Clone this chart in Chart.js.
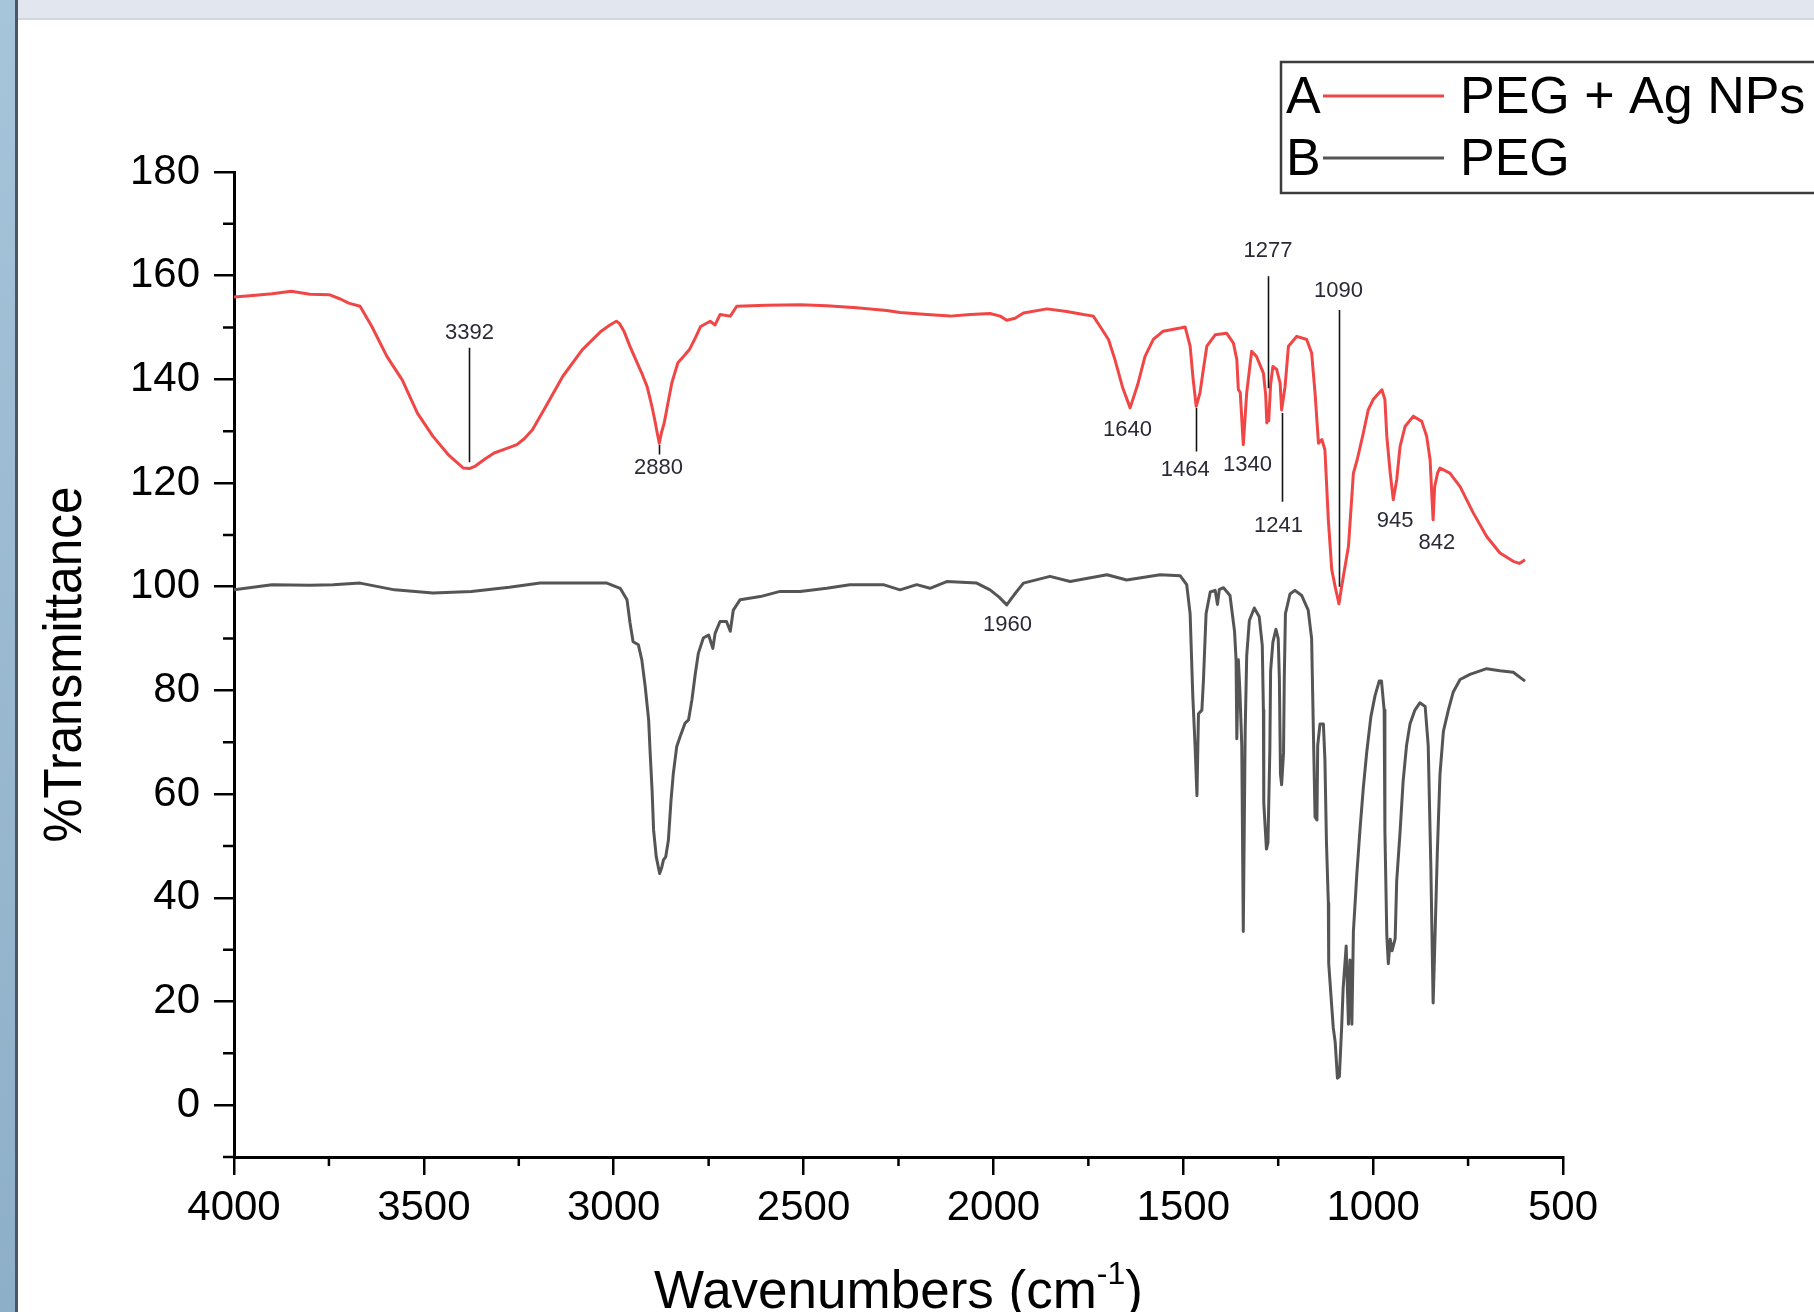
<!DOCTYPE html>
<html>
<head>
<meta charset="utf-8">
<title>FTIR PEG / PEG + Ag NPs</title>
<script src="https://cdn.jsdelivr.net/npm/chart.js@4.4.1/dist/chart.umd.min.js"></script>
<style>
  html, body { margin: 0; padding: 0; background: #fff; }
  #wrap { position: relative; width: 1814px; height: 1312px; overflow: hidden; background: #fff; }
  #ftir { position: absolute; left: 0; top: 0; }
  #topbar { position: absolute; left: 0; top: 0; width: 1814px; height: 18px; background: #e1e6ef; border-bottom: 2px solid #d2d7df; }
  #sidebar { position: absolute; left: 0; top: 0; width: 15px; height: 1312px; background: linear-gradient(#a6c4da, #8eafc8); border-right: 3px solid #4c5667; }
</style>
</head>
<body>
<div id="wrap">
  <canvas id="ftir" width="1814" height="1312"></canvas>
  <div id="topbar"></div>
  <div id="sidebar"></div>
</div>
<script>
// A: PEG + Ag NPs (red)
const wnA = [4000, 3950, 3900, 3849, 3800, 3748, 3720, 3698, 3668, 3637, 3597, 3557, 3517, 3476, 3436, 3396, 3380, 3366, 3340, 3315,
  3285, 3255, 3235, 3214, 3174, 3134, 3083, 3033, 3010, 2993, 2985, 2973, 2958, 2942, 2925, 2912, 2900, 2892, 2885, 2880,
  2874, 2867, 2857, 2847, 2831, 2815, 2801, 2785, 2771, 2746, 2733, 2720, 2693, 2676, 2597, 2509, 2439, 2360, 2281, 2246,
  2175, 2114, 2061, 2009, 1982, 1965, 1943, 1921, 1859, 1807, 1763, 1737, 1719, 1697, 1680, 1660, 1640, 1620, 1601, 1579,
  1553, 1508, 1495, 1482, 1474, 1466, 1456, 1447, 1438, 1416, 1386, 1368, 1359, 1355, 1350, 1342, 1333, 1320, 1307, 1289,
  1283, 1280, 1277, 1275, 1270, 1264, 1254, 1245, 1241, 1232, 1223, 1201, 1175, 1162, 1153, 1144, 1135, 1127, 1118, 1109,
  1100, 1090, 1083, 1065, 1052, 1042, 1026, 1013, 1000, 977, 969, 964, 955, 947, 938, 929, 916, 894, 872, 859,
  850, 845, 842, 838, 830, 824, 798, 771, 736, 701, 666, 631, 615, 600];
const tA = [155.9, 156.2, 156.5, 157, 156.4, 156.3, 155.5, 154.7, 154.1, 150.2, 144.4, 139.9, 133.5, 129, 125.5, 122.9, 122.8, 123.2, 124.6, 125.8,
  126.6, 127.4, 128.6, 130.3, 135.4, 140.6, 145.7, 149.3, 150.5, 151.2, 150.8, 149.3, 146.5, 143.8, 141, 138.6, 135, 132.2, 129.5, 127.7,
  129.8, 131.6, 135.5, 139.3, 143.2, 144.5, 145.7, 148, 150.2, 151.2, 150.5, 152.5, 152.2, 154.1, 154.3, 154.4, 154.2, 153.8, 153.3, 152.9,
  152.5, 152.2, 152.5, 152.7, 152.2, 151.4, 151.8, 152.8, 153.6, 153.1, 152.5, 152.2, 150.2, 147.7, 143.8, 138.5, 134.5, 139, 144.4, 147.7,
  149.3, 149.9, 150.1, 146.4, 140, 134.8, 137.4, 142, 146.4, 148.6, 148.9, 147, 143.8, 138, 137.5, 127.4, 137.4, 145.4, 144.4, 141.2,
  137, 131.6, 134, 132, 139, 142.5, 141.9, 139.3, 134.1, 138.6, 146.4, 148.3, 147.7, 145.1, 137.4, 127.7, 128.4, 126.4, 112.9, 103.3,
  100, 96.7, 100, 107.8, 121.9, 124.5, 129.6, 134.1, 136.1, 138, 136.1, 129, 121.9, 116.8, 120.6, 127.1, 130.9, 132.9, 131.9, 129,
  124.5, 117, 112.9, 119.3, 122, 122.9, 121.9, 119.3, 114.2, 109.7, 106.5, 104.9, 104.5, 105.2];

// B: PEG (dark grey)
const wnB = [4000, 3900, 3800, 3739, 3668, 3577, 3476, 3375, 3275, 3194, 3088, 3018, 2983, 2965, 2957, 2949, 2935, 2926, 2917, 2908,
  2904, 2899, 2895, 2888, 2879, 2873, 2869, 2863, 2856, 2849, 2843, 2834, 2825, 2812, 2803, 2794, 2785, 2777, 2764, 2750,
  2739, 2733, 2720, 2703, 2693, 2685, 2667, 2614, 2562, 2509, 2439, 2378, 2290, 2246, 2202, 2167, 2123, 2044, 2009, 1985,
  1965, 1945, 1921, 1851, 1798, 1701, 1649, 1561, 1508, 1491, 1482, 1475, 1469, 1464, 1460, 1451, 1447, 1440, 1429, 1416,
  1410, 1405, 1394, 1377, 1365, 1361, 1359, 1355, 1351, 1346, 1342, 1337, 1333, 1326, 1313, 1300, 1292, 1289, 1288, 1281,
  1277, 1272, 1270, 1264, 1256, 1250, 1247, 1244, 1241, 1236, 1234, 1231, 1219, 1206, 1188, 1171, 1162, 1157, 1153, 1148,
  1146, 1140, 1131, 1127, 1123, 1118, 1117, 1109, 1105, 1100, 1094, 1089, 1083, 1079, 1071, 1065, 1061, 1056, 1052, 1043,
  1035, 1026, 1017, 1006, 995, 984, 978, 971, 969, 964, 960, 955, 950, 942, 938, 929, 921, 912, 903, 890,
  877, 863, 855, 848, 842, 838, 831, 824, 815, 802, 789, 771, 745, 701, 666, 631, 600];
const tB = [99.4, 100.4, 100.3, 100.4, 100.7, 99.4, 98.8, 99.1, 99.9, 100.7, 100.7, 100.7, 99.7, 97.5, 93, 89.4, 88.8, 85.9, 80.7, 74.3,
  67.9, 60.8, 53.1, 47.9, 44.7, 46, 47.3, 47.9, 51.1, 58.9, 64, 69.2, 71.1, 73.7, 74.3, 78.2, 83.3, 87.2, 90.1, 90.7,
  88.1, 91, 93.3, 93.3, 91.4, 95.5, 97.5, 98.1, 99.1, 99.1, 99.7, 100.4, 100.4, 99.4, 100.4, 99.7, 101, 100.7, 99.4, 98,
  96.5, 98.5, 100.7, 102, 101, 102.3, 101.3, 102.3, 102.1, 100.4, 94.8, 79, 69.4, 59.7, 75.5, 76.2, 81.8, 94.8, 99, 99.3,
  96.6, 99.5, 99.8, 98.3, 91.4, 85.9, 70.7, 85.9, 80, 69.4, 33.5, 72.1, 86.6, 93.5, 95.9, 94.2, 88.7, 76.2, 58.3, 49.4,
  50.7, 68.7, 83.8, 89.3, 91.8, 90, 82.4, 63.8, 61.8, 68, 82.4, 94.8, 98.6, 99.3, 98.3, 95.5, 90, 70.7, 55.6, 55,
  69.4, 73.5, 73.5, 66.6, 50.8, 39, 27.3, 19, 14.9, 12.2, 5.2, 5.5, 14.9, 22.5, 30.7, 15.6, 28, 15.6, 33.5, 44.5,
  52.8, 61.1, 68, 74.9, 79, 81.8, 81.8, 76.2, 52.8, 32.8, 27.3, 32, 29.8, 32.1, 43.2, 52.8, 62.5, 69.4, 73.5, 76.2,
  77.6, 76.9, 69.4, 45.9, 19.7, 30, 48.7, 63.8, 72.1, 76.2, 79.7, 82.1, 83.1, 84.2, 83.8, 83.5, 81.8];

// peak labels: text position (wavenumber, %T) and optional leader line
const peakLabels = ['3392', '2880', '1960', '1640', '1464', '1340', '1277', '1241', '1090', '945', '842'];
const peakTextX  = [3380, 2882, 1963, 1647, 1495, 1331, 1277, 1249, 1091, 942, 832];
const peakTextY  = [149, 123, 92.7, 130.3, 122.6, 123.5, 164.7, 111.8, 157, 112.6, 108.5];
const leaderX    = [3380, 2882, null, null, 1467, null, 1277, 1241, 1091, null, null];
const leaderFrom = [146.1, 127.4, null, null, 134.5, null, 159.9, 133.5, 153.4, null, null];
const leaderTo   = [124, 125.5, null, null, 126.1, null, 138.3, 116.4, 100, null, null];

const FONT = "'Liberation Sans', Arial, sans-serif";

function toPoints(xs, ys) {
  return xs.map((x, i) => ({ x: x, y: ys[i] }));
}

// minor ticks (Chart.js has none)
const minorTicks = {
  id: 'minorTicks',
  afterDraw(chart) {
    const { ctx, scales: { x, y } } = chart;
    ctx.save();
    ctx.strokeStyle = '#000';
    ctx.lineWidth = 2.5;
    ctx.beginPath();
    for (let v = 750; v < 4000; v += 500) {
      const px = x.getPixelForValue(v);
      ctx.moveTo(px, x.top);
      ctx.lineTo(px, x.top + 9);
    }
    for (let v = -10; v < 180; v += 20) {
      const py = y.getPixelForValue(v);
      ctx.moveTo(y.right - 11, py);
      ctx.lineTo(y.right, py);
    }
    ctx.stroke();
    ctx.restore();
  }
};

// axis titles, drawn by hand for the superscript and the narrow face
const axisTitles = {
  id: 'axisTitles',
  afterDraw(chart) {
    const { ctx, chartArea } = chart;
    ctx.save();
    ctx.fillStyle = '#000';

    // y title
    ctx.font = '54px ' + FONT;
    const yt = '%Transmittance';
    const yw = ctx.measureText(yt).width;
    const ys = Math.min(1, 356 / yw);
    ctx.translate(66, (chartArea.top + chartArea.bottom) / 2);
    ctx.rotate(-Math.PI / 2);
    ctx.scale(ys, 1);
    ctx.textAlign = 'center';
    ctx.textBaseline = 'middle';
    ctx.fillText(yt, 0, 0);
    ctx.setTransform(1, 0, 0, 1, 0, 0);

    // x title
    const main = 'Wavenumbers (cm';
    const sup = '-1';
    const tail = ')';
    ctx.textAlign = 'left';
    ctx.textBaseline = 'alphabetic';
    ctx.font = '53px ' + FONT;
    const w1 = ctx.measureText(main).width;
    const w3 = ctx.measureText(tail).width;
    ctx.font = '32px ' + FONT;
    const w2 = ctx.measureText(sup).width;
    const total = w1 + w2 + w3;
    let xp = (chartArea.left + chartArea.right) / 2 - total / 2;
    const base = 1308;
    ctx.font = '53px ' + FONT;
    ctx.fillText(main, xp, base);
    xp += w1;
    ctx.font = '32px ' + FONT;
    ctx.fillText(sup, xp, base - 24);
    xp += w2;
    ctx.font = '53px ' + FONT;
    ctx.fillText(tail, xp, base);
    ctx.restore();
  }
};

// peak labels with leader lines
const peakMarks = {
  id: 'peakMarks',
  afterDatasetsDraw(chart) {
    const { ctx, scales: { x, y } } = chart;
    ctx.save();
    ctx.strokeStyle = '#151515';
    ctx.lineWidth = 1.6;
    ctx.beginPath();
    leaderX.forEach((lx, i) => {
      if (lx === null) return;
      const px = Math.round(x.getPixelForValue(lx)) + 0.5;
      ctx.moveTo(px, y.getPixelForValue(leaderFrom[i]));
      ctx.lineTo(px, y.getPixelForValue(leaderTo[i]));
    });
    ctx.stroke();
    ctx.fillStyle = '#2a2a36';
    ctx.font = '22px ' + FONT;
    ctx.textAlign = 'center';
    ctx.textBaseline = 'middle';
    peakLabels.forEach((t, i) => {
      ctx.fillText(t, x.getPixelForValue(peakTextX[i]), y.getPixelForValue(peakTextY[i]));
    });
    ctx.restore();
  }
};

// legend box "A —— PEG + Ag NPs"
const legendBox = {
  id: 'legendBox',
  afterDraw(chart) {
    const { ctx } = chart;
    const tags = ['A', 'B'];
    ctx.save();
    ctx.strokeStyle = '#3c3c3c';
    ctx.lineWidth = 2.5;
    ctx.strokeRect(1281, 62, 600, 131);
    ctx.font = '52px ' + FONT;
    ctx.fillStyle = '#000';
    ctx.textBaseline = 'alphabetic';
    chart.data.datasets.forEach((ds, i) => {
      const base = 113 + i * 62;
      ctx.textAlign = 'left';
      ctx.fillText(tags[i], 1286, base);
      ctx.strokeStyle = ds.borderColor;
      ctx.lineWidth = 3;
      ctx.beginPath();
      ctx.moveTo(1323, base - 17);
      ctx.lineTo(1444, base - 17);
      ctx.stroke();
      ctx.fillText(ds.label, 1460, base);
    });
    ctx.restore();
  }
};

const ctx = document.getElementById('ftir').getContext('2d');
new Chart(ctx, {
  type: 'line',
  data: {
    datasets: [
      {
        label: 'PEG + Ag NPs',
        data: toPoints(wnA, tA),
        borderColor: '#f04646',
        borderWidth: 3,
        pointRadius: 0,
        tension: 0,
        borderJoinStyle: 'round'
      },
      {
        label: 'PEG',
        data: toPoints(wnB, tB),
        borderColor: '#555555',
        borderWidth: 3,
        pointRadius: 0,
        tension: 0,
        borderJoinStyle: 'round'
      }
    ]
  },
  options: {
    responsive: false,
    animation: false,
    layout: { padding: { top: 172, right: 251, bottom: 0, left: 0 } },
    plugins: {
      legend: { display: false },
      tooltip: { enabled: false }
    },
    scales: {
      x: {
        type: 'linear',
        reverse: true,
        min: 500,
        max: 4000,
        afterFit: function(scale) { scale.height = 155; },
        border: { color: '#000', width: 3 },
        grid: { drawOnChartArea: false, color: '#000', lineWidth: 2.5, tickLength: 18 },
        ticks: {
          stepSize: 500,
          autoSkip: false,
          maxRotation: 0,
          padding: 8,
          color: '#000',
          font: { family: FONT, size: 42 },
          callback: function(value) { return String(value); }
        }
      },
      y: {
        min: -10,
        max: 180,
        afterFit: function(scale) { scale.width = 234; },
        border: { color: '#000', width: 3 },
        grid: {
          drawOnChartArea: false,
          lineWidth: 2.5,
          tickLength: 20,
          color: function(c) { return c.tick && c.tick.value === -10 ? 'rgba(0,0,0,0)' : '#000'; }
        },
        ticks: {
          stepSize: 20,
          padding: 14,
          color: '#000',
          font: { family: FONT, size: 42 },
          callback: function(value) { return value === -10 ? '' : String(value); }
        }
      }
    }
  },
  plugins: [minorTicks, peakMarks, axisTitles, legendBox]
});
</script>
</body>
</html>
